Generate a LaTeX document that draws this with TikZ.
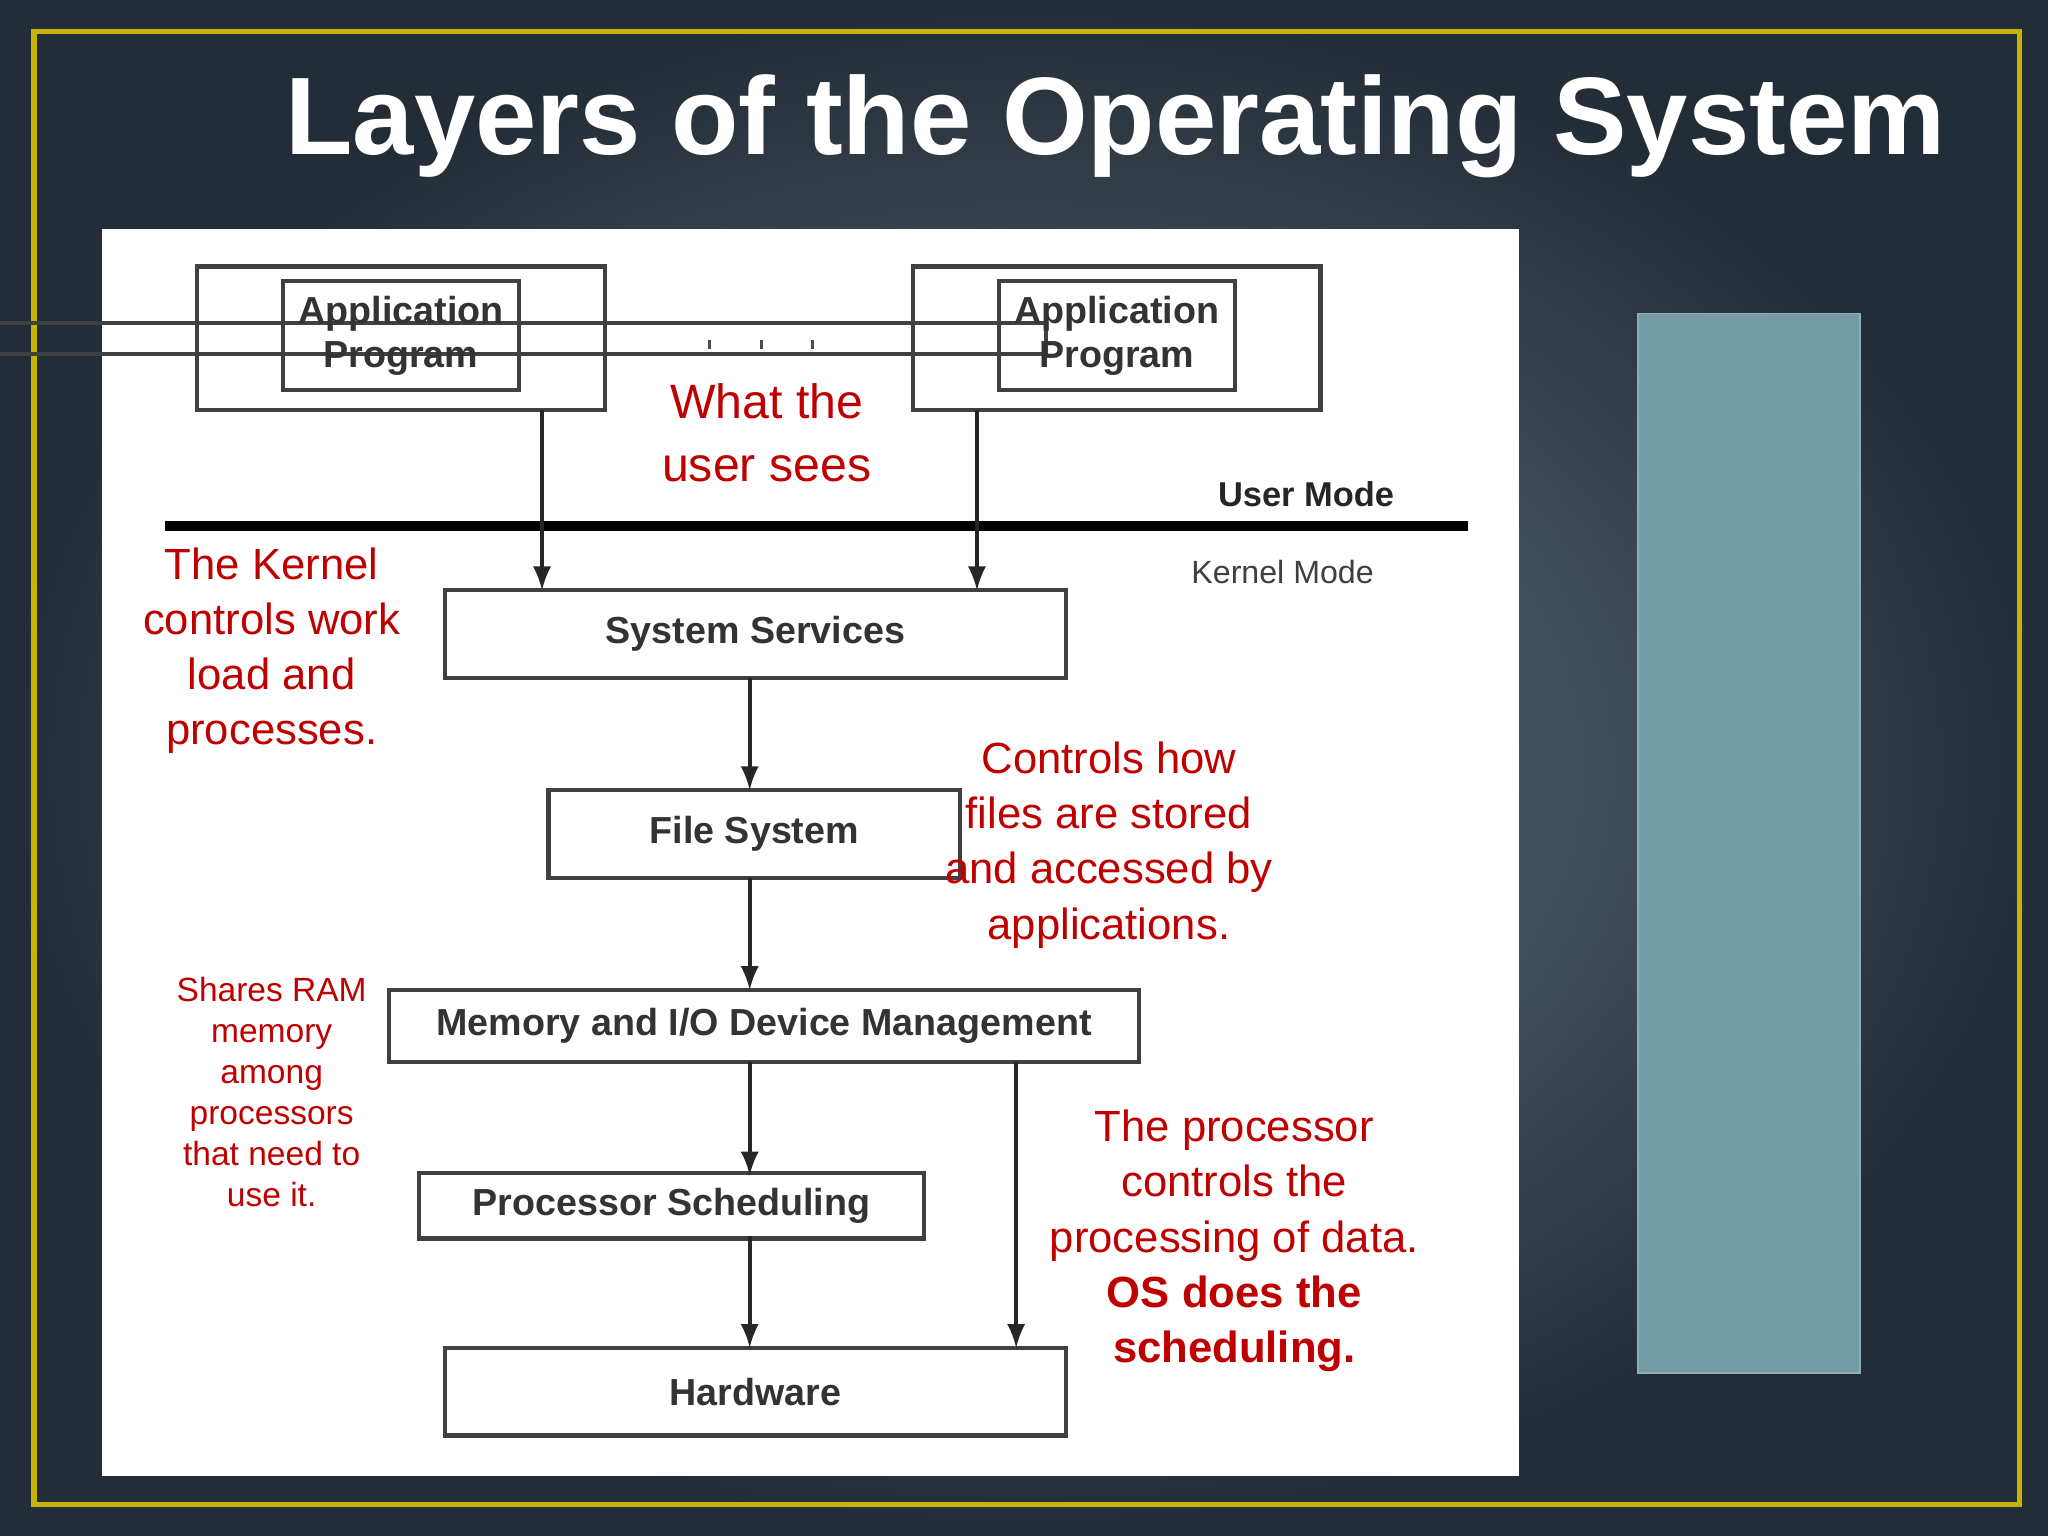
\documentclass[tikz,border=0pt]{standalone}
\usepackage{fontspec}
\setmainfont{Liberation Sans}
\begin{document}
\begin{tikzpicture}[x=0.01cm,y=-0.01cm,
  box/.style={draw=black!75,line width=0.9pt,font=\fontsize{8.2}{9.5}\selectfont\bfseries,text=black!80,align=center},
  arr/.style={-latex,line width=0.8pt,black!85},
  red/.style={text=red!75!black,align=center,font=\fontsize{9.5}{12}\selectfont}]
\useasboundingbox (0,0) rectangle (1568,1176);
\shade[inner color={rgb,255:red,100;green,115;blue,128},outer color={rgb,255:red,35;green,45;blue,55}] (0,0) rectangle (1568,1176);
\draw[color={rgb,255:red,200;green,180;blue,0},line width=1.2pt] (26,24) rectangle (1546,1152);
\node[anchor=east,text=white,font=\fontsize{24}{28}\selectfont\bfseries] (title) at (1502,97) {Layers of the Operating System};
\fill[white] (78,175) rectangle (1163,1130);
\draw[fill={rgb,255:red,115;green,155;blue,163},draw={rgb,255:red,140;green,175;blue,180}] (1254,240) rectangle (1424,1051);
\node[box,minimum width=312\pgflinewidth] (a1) at (307,259) {};
\draw[black!75,line width=0.9pt] (151,204) rectangle (463,314);
\node[box] (a1t) at (307,257) {Application\\Program};
\draw[black!75,line width=0.9pt] (699,204) rectangle (1011,314);
\node[box] (a2t) at (855,257) {Application\\Program};
\foreach \x in {543,583,622} \draw[black!70,line width=0.7pt] (\x,260)--(\x,267);
\draw[line width=2.2pt] (126,403)--(1124,403);
\node[font=\fontsize{7.5}{9}\selectfont\bfseries,text=black!85] (um) at (1000,378) {User Mode};
\node[font=\fontsize{7}{9}\selectfont,text=black!75] (km) at (982,438) {Kernel Mode};
\coordinate (p1) at (415,314); \coordinate (p1e) at (415,452);
\coordinate (p2) at (748,314); \coordinate (p2e) at (748,452);
\draw[arr] (p1)--(p1e); \draw[arr] (p2)--(p2e);
\node[box,minimum width=4.75cm,minimum height=0.67cm] (ss) at (578.5,485.5) {System Services};
\node[box,minimum width=3.15cm,minimum height=0.67cm] (fs) at (577.5,638.5) {File System};
\node[box,minimum width=5.74cm,minimum height=0.55cm] (mm) at (585,785.5) {Memory and I/O Device Management};
\node[box,minimum width=3.86cm,minimum height=0.46cm] (ps) at (514,923) {Processor Scheduling};
\node[box,minimum width=4.75cm,minimum height=0.67cm] (hw) at (578.5,1065.5) {Hardware};
\draw[arr] (574,519)--(574,605);
\draw[arr] (574,672)--(574,758);
\draw[arr] (574,813)--(574,900);
\draw[arr] (574,946)--(574,1032);
\draw[arr] (778,813)--(778,1032);
\node[red,font=\fontsize{10.5}{13.7}\selectfont] (t1) at (587,331) {What the\\user sees};
\node[red] (t2) at (208,498) {The Kernel\\controls work\\load and\\processes.};
\node[red] (t3) at (849,647) {Controls how\\files are stored\\and accessed by\\applications.};
\node[red,font=\fontsize{7.3}{8.9}\selectfont] (t4) at (208,836) {Shares RAM\\memory\\among\\processors\\that need to\\use it.};
\node[red] (t5) at (945,950) {The processor\\controls the\\processing of data.\\\textbf{OS does the}\\\textbf{scheduling.}};
\end{tikzpicture}
\end{document}
